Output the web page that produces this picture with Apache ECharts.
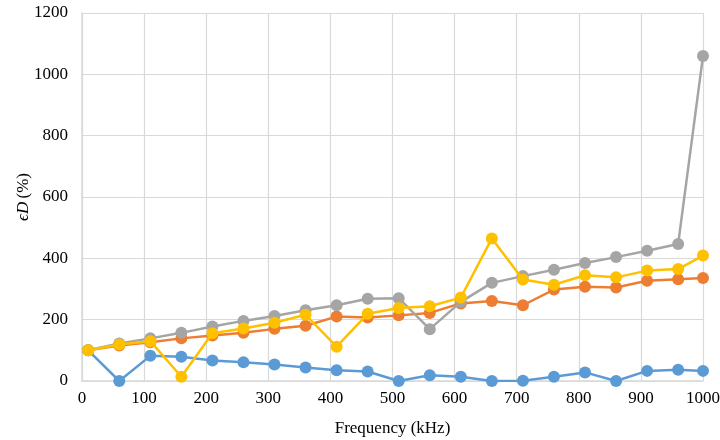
<!DOCTYPE html>
<html>
<head>
<meta charset="utf-8">
<script src="https://cdn.jsdelivr.net/npm/echarts@6/dist/echarts.min.js"></script>
<style>
  html, body { margin: 0; padding: 0; background: #fff; }
  #chart { width: 720px; height: 440px; }
</style>
</head>
<body>
<div id="chart"></div>
<script>
// Frequency sweep points (kHz)
const freq = [10, 60, 110, 160, 210, 260, 310, 360, 410, 460, 510, 560, 610, 660, 710, 760, 810, 860, 910, 960, 1000];

// Relative error ϵD (%) for each series
const seriesBlue   = [100, 0, 82, 79, 67, 61, 54, 44, 35, 31, 0, 19, 14, 0, 1, 14, 28, 0, 33, 37, 33];
const seriesOrange = [100, 116, 126, 139, 148, 157, 170, 180, 210, 207, 214, 222, 253, 261, 247, 298, 307, 305, 327, 332, 336];
const seriesGray   = [100, 122, 139, 157, 178, 196, 212, 231, 247, 268, 270, 169, 258, 320, 342, 363, 385, 404, 425, 447, 1060];
const seriesYellow = [100, 119, 130, 14, 156, 171, 190, 216, 112, 219, 238, 244, 272, 465, 331, 314, 345, 338, 360, 365, 409];

const colors = ['#5B9BD5', '#ED7D31', '#A5A5A5', '#FFC000'];
const allSeries = [seriesBlue, seriesOrange, seriesGray, seriesYellow];

const fontFam = '"Liberation Serif", "Times New Roman", serif';

const chart = echarts.init(document.getElementById('chart'), null, { renderer: 'canvas' });

chart.setOption({
  animation: false,
  grid: { left: 82, right: 17, top: 13, bottom: 59, containLabel: false, outerBoundsMode: 'none' },
  xAxis: {
    type: 'value',
    min: 0, max: 1000, interval: 100,
    name: 'Frequency (kHz)',
    nameLocation: 'middle',
    nameGap: 39,
    nameMoveOverlap: false,
    nameTextStyle: { fontFamily: fontFam, fontSize: 17, color: '#000' },
    axisLine: { show: true, lineStyle: { color: '#d9d9d9', width: 1.5 } },
    axisTick: { show: false },
    axisLabel: { fontFamily: fontFam, fontSize: 17, color: '#000', margin: 9, formatter: v => String(v) },
    splitLine: { show: true, lineStyle: { color: '#d9d9d9', width: 1.2 } }
  },
  yAxis: {
    type: 'value',
    min: 0, max: 1200, interval: 200,
    name: '{i|ϵD} {n|(%)}',
    nameLocation: 'middle',
    nameGap: 50,
    nameRotate: 90,
    nameMoveOverlap: false,
    nameTextStyle: {
      rich: {
        i: { fontFamily: fontFam, fontSize: 17, fontStyle: 'italic', color: '#000' },
        n: { fontFamily: fontFam, fontSize: 17, color: '#000' }
      }
    },
    axisLine: { show: true, lineStyle: { color: '#d9d9d9', width: 1.5 } },
    axisTick: { show: false },
    axisLabel: { fontFamily: fontFam, fontSize: 17, color: '#000', margin: 14, formatter: v => String(v) },
    splitLine: { show: true, lineStyle: { color: '#d9d9d9', width: 1.2 } }
  },
  series: allSeries.map((vals, k) => ({
    type: 'line',
    data: freq.map((f, i) => [f, vals[i]]),
    symbol: 'circle',
    symbolSize: 12,
    lineStyle: { color: colors[k], width: 2.5 },
    itemStyle: { color: colors[k] },
    z: 2 + k
  }))
});
</script>
</body>
</html>
